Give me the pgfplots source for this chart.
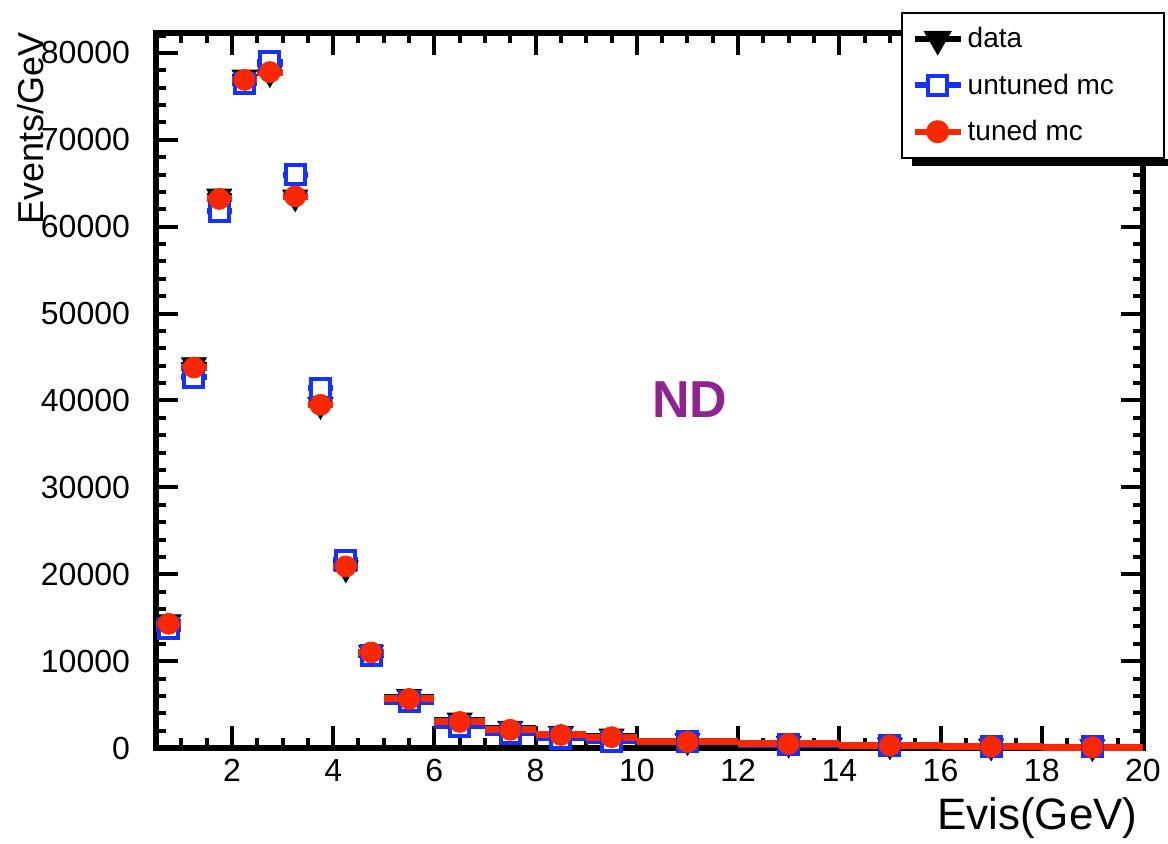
\documentclass[border=0pt]{standalone}
\usepackage{fontspec}
\setmainfont{Liberation Sans}
\usepackage{pgfplots}
\pgfplotsset{compat=1.18}
\usepackage{pgfplotstable}
\definecolor{rootred}{RGB}{250,40,0}
\definecolor{rootblue}{RGB}{20,50,255}
\definecolor{ndpurple}{RGB}{145,35,145}

\pgfplotsset{
  legimg/.style={legend image code/.code={\draw[line width=3pt, #1] (0pt,0pt) -- (23pt,0pt);
    \draw[##1] plot coordinates {(11.5pt,0pt)};}},
}

\pgfplotstableread{
x ex data untuned tuned
0.75 0.25 14500 13700 14300
1.25 0.25 44100 42700 43800
1.75 0.25 63500 61800 63200
2.25 0.25 77200 76500 76900
2.75 0.25 77700 79000 77800
3.25 0.25 63400 66000 63500
3.75 0.25 39500 41400 39500
4.25 0.25 20700 21600 20900
4.75 0.25 11000 10700 11000
5.5 0.5 5900 5300 5650
6.5 0.5 3200 2500 3000
7.5 0.5 2250 1700 2100
8.5 0.5 1650 1150 1500
9.5 0.5 1350 800 1250
11 1 800 700 700
13 1 520 400 480
15 1 330 280 300
17 1 200 200 170
19 1 120 120 100
}\evis

\begin{document}
\begin{tikzpicture}
\begin{axis}[
  at={(0,0)}, anchor=south west,
  scale only axis, width=493.5pt, height=357.5pt,
  xmin=0.5, xmax=20, ymin=0, ymax=82300,
  xtick={2,4,...,20},
  minor xtick={1,1.5,...,19.5},
  ytick={0,10000,...,80000},
  minor ytick={2000,4000,...,82000},
  scaled ticks=false,
  /pgf/number format/1000 sep={},
  /pgf/number format/assume math mode=true,
  tick label style={font=\fontsize{16}{19}\selectfont},
  xticklabel style={yshift=-2pt},
  yticklabel style={xshift=-9.5pt},
  major tick length=11pt, minor tick length=5pt,
  every tick/.style={black, line width=2pt},
  axis line style={line width=3pt},
  clip=false,
  legend cell align=left,
  legend style={at={(1.0223,1.0294)}, anchor=north east, draw=black, line width=1pt,
    fill=white, font=\fontsize{14}{16}\selectfont, inner xsep=5pt, inner ysep=5.25pt,
    row sep=7.5pt, cells={anchor=west},
    /tikz/every even column/.append style={column sep=6pt}},
]
\addplot[only marks, black, mark=triangle*, mark size=7.2pt,
  mark options={rotate=180, fill=black, draw=black},
  error bars/x dir=both, error bars/x explicit, error bars/error mark=none,
  error bars/error bar style={line width=3pt, black},
  legimg=black]
  table[x=x, y=data, x error=ex] {\evis};
\addlegendentry{data}
\addplot[only marks, rootblue, mark=square*, mark size=4.75pt,
  mark options={fill=white, draw=rootblue, line width=2pt},
  error bars/x dir=both, error bars/x explicit, error bars/error mark=none,
  error bars/error bar style={line width=3pt, rootblue},
  legimg=rootblue]
  table[x=x, y=untuned, x error=ex] {\evis};
\addlegendentry{untuned mc\hspace*{18pt}}
\addplot[only marks, rootred, mark=*, mark size=5.25pt,
  mark options={fill=rootred, draw=rootred},
  error bars/x dir=both, error bars/x explicit, error bars/error mark=none,
  error bars/error bar style={line width=3.5pt, rootred},
  legimg=rootred]
  table[x=x, y=tuned, x error=ex] {\evis};
\addlegendentry{tuned mc}
\node[font=\fontsize{26}{30}\selectfont\bfseries, text=ndpurple] at (axis cs:11.05,40100) {ND};
\end{axis}
\node[anchor=base east, inner sep=0, font=\fontsize{22}{26}\selectfont] at (491pt,-40.5pt) {Evis(GeV)};
\node[rotate=90, anchor=north east, inner sep=0, font=\fontsize{18}{21}\selectfont] at (-69.5pt,358pt) {Events/GeV};
\fill[black] (378pt,291pt) rectangle (512pt,294.5pt);
\pgfresetboundingbox
\path[use as bounding box] (-78pt,-47.5pt) rectangle (506pt,374pt);
\end{tikzpicture}
\end{document}
